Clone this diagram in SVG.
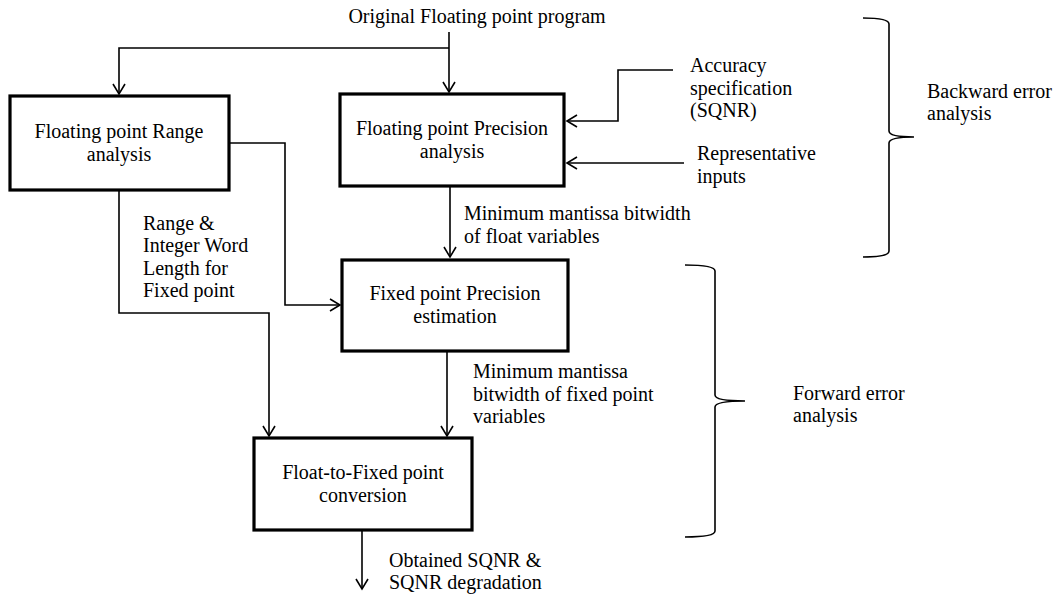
<svg xmlns="http://www.w3.org/2000/svg" width="1062" height="597" viewBox="0 0 1062 597">
<style>
.c{text-anchor:middle}
.box{fill:#fff;stroke:#000;stroke-width:3.2}
.ln{fill:none;stroke:#000;stroke-width:1.6}
</style>
<defs>
<marker id="ah" markerWidth="14" markerHeight="14" refX="11" refY="7" orient="auto" markerUnits="userSpaceOnUse">
<path d="M1,1 L11,7 L1,13" fill="none" stroke="#000" stroke-width="1.6"/>
</marker>
</defs>
<rect width="1062" height="597" fill="#fff"/>
<g font-family="Liberation Serif" font-size="20" fill="#000">
<text class="c" x="477" y="23">Original Floating point program</text>
<g id="connectors">
<path class="ln" d="M449,32 V92" marker-end="url(#ah)"/>
<path class="ln" d="M449,48 H119 V94" marker-end="url(#ah)"/>
<path class="ln" d="M230,143 H285 V305 H340" marker-end="url(#ah)"/>
<path class="ln" d="M119,191 V313 H269 V436" marker-end="url(#ah)"/>
<path class="ln" d="M450,187 V257" marker-end="url(#ah)"/>
<path class="ln" d="M447,352 V436" marker-end="url(#ah)"/>
<path class="ln" d="M362,531 V589" marker-end="url(#ah)"/>
<path class="ln" d="M673,70 H618 V121 H567" marker-end="url(#ah)"/>
<path class="ln" d="M684,163 H567" marker-end="url(#ah)"/>
</g>
<g id="n1"><rect class="box" x="10" y="96" width="219" height="94"/>
<text class="c" x="119" y="138">Floating point Range</text><text class="c" x="119" y="161">analysis</text></g>
<g id="n2"><rect class="box" x="340" y="94" width="224" height="92"/>
<text class="c" x="452" y="135">Floating point Precision</text><text class="c" x="452" y="158">analysis</text></g>
<g id="n3"><rect class="box" x="342" y="260" width="226" height="91"/>
<text class="c" x="455" y="300">Fixed point Precision</text><text class="c" x="455" y="323">estimation</text></g>
<g id="n4"><rect class="box" x="254" y="438" width="218" height="92"/>
<text class="c" x="363" y="479">Float-to-Fixed point</text><text class="c" x="363" y="502">conversion</text></g>
<g id="labels">
<text x="690" y="72">Accuracy</text><text x="690" y="95">specification</text><text x="690" y="117">(SQNR)</text>
<text x="697" y="160">Representative</text><text x="697" y="183">inputs</text>
<text x="464" y="220">Minimum mantissa bitwidth</text><text x="464" y="243">of float variables</text>
<text x="143" y="230">Range &amp;</text><text x="143" y="252">Integer Word</text><text x="143" y="275">Length for</text><text x="143" y="297">Fixed point</text>
<text x="473" y="378">Minimum mantissa</text><text x="473" y="401">bitwidth of fixed point</text><text x="473" y="423">variables</text>
<text x="389" y="567">Obtained SQNR &amp;</text><text x="389" y="589">SQNR degradation</text>
<text x="927" y="98">Backward error</text><text x="927" y="120">analysis</text>
<text x="793" y="400">Forward error</text><text x="793" y="422">analysis</text>
</g>
<g id="braces">
<path class="ln" d="M863,18 Q889,18 889,24 V131 Q889,137 914,137 Q889,137 889,143 V251 Q889,257 863,257"/>
<path class="ln" d="M685,265 Q715,265 715,271 V395 Q715,401 745,401 Q715,401 715,407 V531 Q715,537 685,537"/>
</g>
</g>
</svg>
